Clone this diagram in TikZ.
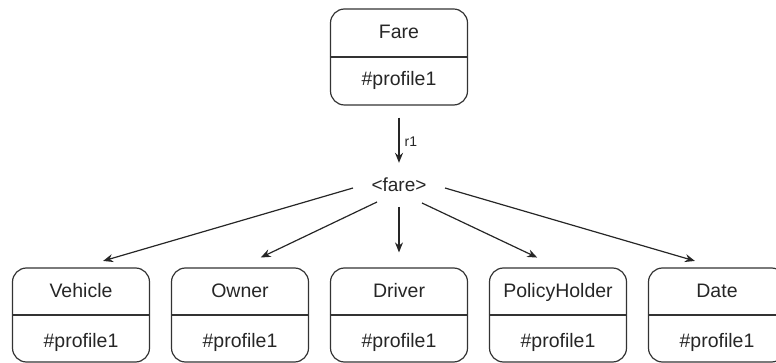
\documentclass[tikz,border=0pt]{standalone}
\usepackage{fontspec}
\setmainfont{Liberation Sans}
\usetikzlibrary{arrows.meta,calc}
\begin{document}
\begin{tikzpicture}[x=1pt,y=-1pt,
  box/.style={draw=black!80, line width=1.2pt, rounded corners=14pt, minimum width=137pt, inner sep=0pt},
  txt/.style={font=\fontsize{19.5}{21}\selectfont, text=black!85, inner sep=0pt, anchor=base},
  divider/.style={draw=black!80, line width=1.2pt},
  arr/.style={draw=black!85, line width=1.2pt, -{Stealth[length=10pt,width=8pt]}}
]
\useasboundingbox (0,0) rectangle (776,363);
% top box
\node[box, minimum height=96pt] (fare) at (399,57) {};
\draw[divider] (fare.west) -- (fare.east);
\node[txt] (faret) at (399,38.5) {Fare};
\node[txt] (farep) at (399,86) {\#profile1};
% label
\node[txt, anchor=center, font=\fontsize{19}{21}\selectfont] (lbl) at (399,185) {<fare>};
\draw[arr, shorten <=12pt, shorten >=15pt] (fare.south) -- (lbl.north)
  node[pos=0.5, right, xshift=5pt, font=\fontsize{14}{16}\selectfont, text=black!85, inner sep=0pt] (r1) {r1};
% bottom boxes
\foreach \n/\x/\t in {veh/81/Vehicle, own/240/Owner, drv/399/Driver, pol/558/PolicyHolder, dat/717/Date}{
  \node[box, minimum height=94pt] (\n) at (\x,315) {};
  \draw[divider] (\n.west) -- (\n.east);
  \node[txt] (\n t) at (\x,298) {\t};
  \node[txt] (\n p) at (\x,347) {\#profile1};
}
% start points of fan connectors
\coordinate (s1) at (353,188);
\coordinate (s2) at (377,202);
\coordinate (s3) at (399,207);
\coordinate (s4) at (422,203);
\coordinate (s5) at (445,188);
\draw[arr, shorten >=23pt] (s1) -- (veh.north);
\draw[arr, shorten >=23pt] (s2) -- (own.north);
\draw[arr, shorten >=15pt] (s3) -- (drv.north);
\draw[arr, shorten >=23pt] (s4) -- (pol.north);
\draw[arr, shorten >=23pt] (s5) -- (dat.north);
\end{tikzpicture}
\end{document}
